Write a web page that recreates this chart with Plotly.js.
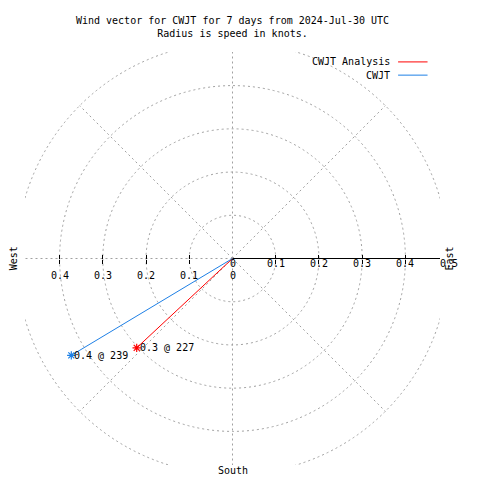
<!DOCTYPE html>
<html>
<head>
<meta charset="utf-8">
<script src="https://cdn.plot.ly/plotly-3.0.1.min.js"></script>
<style>html,body{margin:0;padding:0;background:#fff;}</style>
</head>
<body>
<div id="chart" style="width:480px;height:480px;"></div>
<script>
// ---- data ----
const seriesNames = ["CWJT Analysis", "CWJT"];
const speeds = [0.303, 0.435];       // knots
const directions = [227, 239];       // degrees (compass)
const ringRadii = [0.1, 0.2, 0.3, 0.4, 0.5];
const spokeAngles = [45, 90, 135, 180, 225, 270, 315];
const eastTickValues = [0, 0.1, 0.2, 0.3, 0.4, 0.5];
const eastTickLabels = ["0", "0.1", "0.2", "0.3", "0.4", "0.5"];
const westTickValues = [-0.4, -0.3, -0.2, -0.1, 0];
const westTickLabels = ["0.4", "0.3", "0.2", "0.1", "0"];
const tickMarkValues = [-0.4, -0.3, -0.2, -0.1, 0.1, 0.2, 0.3, 0.4];
const titleLines = ["Wind vector for CWJT for 7 days from 2024-Jul-30 UTC", "Radius is speed in knots."];

// ---- styles ----
const seriesColors = ["#ff0000", "#1e80e6"];
const FONT = "DejaVu Sans Mono, Liberation Mono, monospace";
const GRID = "#a0a0a0";
const xRange = [-0.48, 0.48];
const yRange = [-0.4777, 0.4777];
const rad = d => d * Math.PI / 180;
const xToPaper = v => (v - xRange[0]) / (xRange[1] - xRange[0]);

const traces = [];
const annotations = [];
speeds.forEach((s, i) => {
  const xe = s * Math.sin(rad(directions[i]));
  const ye = s * Math.cos(rad(directions[i]));
  traces.push({
    type: "scatter", mode: "lines", x: [0, xe], y: [0, ye],
    line: {color: seriesColors[i], width: 1}, hoverinfo: "skip"
  });
  traces.push({
    type: "scatter", mode: "markers", x: [xe], y: [ye],
    marker: {symbol: "asterisk-open", size: 7, color: seriesColors[i], line: {color: seriesColors[i], width: 1.2}},
    hoverinfo: "skip", cliponaxis: false
  });
  annotations.push({
    xref: "x", yref: "y", x: xe, y: ye, text: s.toFixed(1) + " @ " + directions[i],
    xanchor: "left", yanchor: "middle", xshift: 1, showarrow: false,
    font: {family: FONT, size: 10, color: "#000"}
  });
});
// dummy trace to create the overlay axis for upper tick halves
traces.push({type: "scatter", mode: "markers", x: [0], y: [0], xaxis: "x2", yaxis: "y",
  marker: {opacity: 0, size: 1}, hoverinfo: "skip"});

const shapes = [];
ringRadii.forEach(r => shapes.push({
  type: "circle", xref: "x", yref: "y", x0: -r, x1: r, y0: -r, y1: r,
  line: {color: GRID, width: 1, dash: "2px,3px"}, layer: "below"
}));
const outer = ringRadii[ringRadii.length - 1];
spokeAngles.forEach(a => shapes.push({
  type: "line", xref: "x", yref: "y", x0: 0, y0: 0,
  x1: outer * Math.sin(rad(a + 90)), y1: outer * Math.cos(rad(a + 90)),
  line: {color: GRID, width: 1, dash: "2px,3px"}, layer: "below"
}));
// east radial axis line
shapes.push({type: "line", xref: "x", yref: "y", x0: 0, y0: 0, x1: outer, y1: 0,
  line: {color: "#000", width: 1}, layer: "below"});
// white masks clipping everything to the square plot frame
[[-1, 0, -1, 2], [1, 2, -1, 2], [0, 1, 1, 2], [0, 1, -1, 0]].forEach(m => shapes.push({
  type: "rect", xref: "paper", yref: "paper", x0: m[0], x1: m[1], y0: m[2], y1: m[3],
  fillcolor: "#fff", line: {width: 0}, layer: "above"
}));

// east-side radial labels
eastTickValues.forEach((v, i) => annotations.push({
  xref: "paper", yref: "y", x: xToPaper(v), y: 0, text: eastTickLabels[i], showarrow: false,
  yshift: -5, yanchor: "middle", xanchor: "center",
  font: {family: FONT, size: 10, color: "#000"}
}));
// west-side radial labels
westTickValues.forEach((v, i) => annotations.push({
  xref: "paper", yref: "y", x: xToPaper(v), y: 0, text: westTickLabels[i], showarrow: false,
  yshift: -17, yanchor: "middle", xanchor: "center",
  font: {family: FONT, size: 10, color: "#000"}
}));
// compass labels
annotations.push({xref: "paper", yref: "paper", x: -0.027, y: 0.5, text: "West", textangle: -90,
  xanchor: "center", yanchor: "middle",
  showarrow: false, font: {family: FONT, size: 10, color: "#000"}});
annotations.push({xref: "paper", yref: "paper", x: 1.024, y: 0.5, text: "East", textangle: -90,
  xanchor: "center", yanchor: "middle",
  showarrow: false, font: {family: FONT, size: 10, color: "#000"}});
annotations.push({xref: "paper", yref: "paper", x: 0.5, y: -0.0145, text: "South",
  xanchor: "center", yanchor: "middle",
  showarrow: false, font: {family: FONT, size: 10, color: "#000"}});
// legend (text left, sample right)
const legendY = [0.976, 0.944];
seriesNames.forEach((n, i) => {
  annotations.push({xref: "paper", yref: "paper", x: 0.884, y: legendY[i], text: n,
    xanchor: "right", yanchor: "middle", showarrow: false,
    font: {family: FONT, size: 10, color: "#000"}});
  shapes.push({type: "line", xref: "paper", yref: "paper", x0: 0.899, x1: 0.970,
    y0: legendY[i], y1: legendY[i], line: {color: seriesColors[i], width: 1}, layer: "above"});
});

const axisCommon = {
  range: xRange, anchor: "free", position: 0.5,
  showgrid: false, zeroline: false, showline: false,
  ticks: "outside", ticklen: 4, tickwidth: 1, tickcolor: "#000",
  tickmode: "array", tickvals: tickMarkValues, showticklabels: false, fixedrange: true
};

const layout = {
  width: 480, height: 480,
  margin: {l: 25, r: 40, t: 52, b: 15, pad: 0},
  paper_bgcolor: "#fff", plot_bgcolor: "#fff",
  showlegend: false,
  title: {
    text: titleLines.join("<br>"),
    font: {family: FONT, size: 10, color: "#000"},
    x: 0.5, xref: "paper", xanchor: "center",
    y: 0.949, yref: "container", yanchor: "top"
  },
  xaxis: Object.assign({}, axisCommon, {side: "bottom"}),
  xaxis2: Object.assign({}, axisCommon, {side: "top", overlaying: "x"}),
  yaxis: {range: yRange, visible: false, showgrid: false, zeroline: false, fixedrange: true},
  shapes: shapes,
  annotations: annotations
};

Plotly.newPlot("chart", traces, layout, {displayModeBar: false, staticPlot: true});
</script>
</body>
</html>
